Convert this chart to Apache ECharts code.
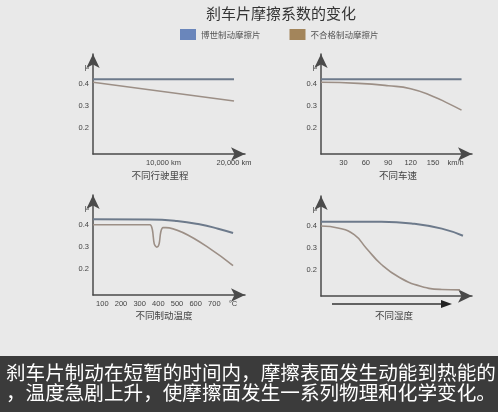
<!DOCTYPE html>
<html><head><meta charset="utf-8">
<script src="https://cdn.jsdelivr.net/npm/echarts@6/dist/echarts.min.js"></script>
<style>html,body{margin:0;padding:0;background:#e9e9e9}#c{width:498px;height:412px}</style>
</head><body><div id="c"></div>
<script>
const seriesNames = ['博世制动摩擦片', '不合格制动摩擦片'];
const legendColors = ['#6a86bb', '#a3855b'];
const lineColors = ['#6d7a8b', '#9c8f86'];

// y axis ticks (shared)
const yTicks = [0.2, 0.3, 0.4, 0.48];
const yTickLabels = ['0.2', '0.3', '0.4', 'μ'];

// Panel 1: mileage (km)
const mileageBoschX = [0, 20000];
const mileageBosch = [0.424, 0.424];
const mileageInferiorX = [0, 20000];
const mileageInferior = [0.41, 0.324];
const mileageTicks = [10000, 20000];
const mileageTickLabels = ['10,000 km', '20,000 km'];

// Panel 2: speed (km/h)
const speedBoschX = [0, 188];
const speedBosch = [0.424, 0.424];
const speedInferiorX = [0, 50, 90, 120, 150, 170, 188];
const speedInferior = [0.41, 0.405, 0.394, 0.38, 0.345, 0.313, 0.282];
const speedTicks = [30, 60, 90, 120, 150, 180];
const speedTickLabels = ['30', '60', '90', '120', '150', 'km/h'];

// Panel 3: braking temperature (°C)
const tempBoschX = [50, 350, 500, 620, 720, 800];
const tempBosch = [0.428, 0.427, 0.42, 0.405, 0.385, 0.365];
const tempInferiorX = [50, 355, 368, 378, 392, 404, 413, 425, 440, 800];
const tempInferior = [0.403, 0.403, 0.38, 0.315, 0.3, 0.315, 0.37, 0.39, 0.39, 0.215];
const tempTicks = [100, 200, 300, 400, 500, 600, 700, 800];
const tempTickLabels = ['100', '200', '300', '400', '500', '600', '700', '°C'];

// Panel 4: humidity (relative scale)
const humBoschX = [0, 40, 60, 80, 94];
const humBosch = [0.422, 0.422, 0.414, 0.39, 0.357];
const humInferiorX = [0, 12, 22, 30, 40, 52, 66, 80, 92];
const humInferior = [0.402, 0.392, 0.362, 0.3, 0.225, 0.165, 0.125, 0.11, 0.108];

const captions = ['不同行驶里程', '不同车速', '不同制动温度', '不同湿度'];
const bannerLines = ['刹车片制动在短暂的时间内，摩擦表面发生动能到热能的', '，温度急剧上升，使摩擦面发生一系列物理和化学变化。'];

const FONT = "'Liberation Sans', 'Noto Sans CJK SC', sans-serif";
const CJK = "'Noto Sans CJK SC', sans-serif";
const zip = (xs, ys) => xs.map((x, i) => [x, ys[i]]);

const grids = [
  {left: 93, top: 54, width: 152, height: 100},
  {left: 321, top: 54, width: 151, height: 100},
  {left: 93, top: 195, width: 152, height: 100},
  {left: 321, top: 196, width: 151, height: 100}
];
const xRanges = [[0, 21560], [0, 202], [50, 864], [0, 100]];
const xTickSets = [[mileageTicks, mileageTickLabels], [speedTicks, speedTickLabels], [tempTicks, tempTickLabels], [[], []]];

const axisLine = {show: true, symbol: ['none', 'arrow'], symbolSize: [10, 14], lineStyle: {color: '#4a4a4a', width: 1.5}};

const xAxes = grids.map((g, i) => ({
  type: 'value', gridIndex: i, min: xRanges[i][0], max: xRanges[i][1],
  axisLine: axisLine, axisTick: {show: false}, splitLine: {show: false},
  axisLabel: {
    show: xTickSets[i][0].length > 0,
    customValues: xTickSets[i][0],
    formatter: v => { const k = xTickSets[i][0].indexOf(v); return k >= 0 ? xTickSets[i][1][k] : ''; },
    fontSize: 7.5, color: '#444', margin: 5, fontFamily: FONT
  }
}));
const yAxes = grids.map((g, i) => ({
  type: 'value', gridIndex: i, min: 0.08, max: 0.54,
  axisLine: axisLine, axisTick: {show: false}, splitLine: {show: false},
  axisLabel: {
    customValues: yTicks,
    formatter: v => { const k = yTicks.indexOf(v); return k >= 0 ? yTickLabels[k] : ''; },
    fontSize: 7.5, color: '#444', margin: 4, fontFamily: FONT
  }
}));

const panelData = [
  [zip(mileageBoschX, mileageBosch), zip(mileageInferiorX, mileageInferior)],
  [zip(speedBoschX, speedBosch), zip(speedInferiorX, speedInferior)],
  [zip(tempBoschX, tempBosch), zip(tempInferiorX, tempInferior)],
  [zip(humBoschX, humBosch), zip(humInferiorX, humInferior)]
];
const series = [];
panelData.forEach((pd, i) => {
  pd.forEach((d, j) => {
    series.push({
      type: 'line', name: seriesNames[j], xAxisIndex: i, yAxisIndex: i, data: d,
      showSymbol: false, smooth: (i === 2 && j === 1) ? 0.3 : 0.5,
      lineStyle: {color: lineColors[j], width: j === 0 ? 2 : 1.6},
      itemStyle: {color: lineColors[j]}
    });
  });
});

const capPos = [[160, 171], [398, 171], [164, 311], [394, 311]];
const titles = [{
  text: '刹车片摩擦系数的变化', left: 281, top: 6, textAlign: 'center', padding: 0,
  textStyle: {fontSize: 15, fontWeight: 'normal', color: '#333', fontFamily: CJK}
}];
captions.forEach((c, i) => titles.push({
  text: c, left: capPos[i][0], top: capPos[i][1], textAlign: 'center', padding: 0,
  textStyle: {fontSize: 9.5, fontWeight: 'normal', color: '#444', fontFamily: CJK}
}));
bannerLines.forEach((t, i) => titles.push({
  text: t, left: 6, top: 362 + i * 20, padding: 0,
  textStyle: {fontSize: 19.6, fontWeight: 'normal', color: '#ffffff', fontFamily: CJK, lineHeight: 21}
}));

const chart = echarts.init(document.getElementById('c'));
chart.setOption({
  backgroundColor: '#e9e9e9',
  animation: false,
  title: titles,
  legend: {
    left: 180, top: 29, padding: 0, itemGap: 29, itemWidth: 16, itemHeight: 11, icon: 'rect',
    selectedMode: false,
    textStyle: {fontSize: 8.5, color: '#555', fontFamily: CJK},
    data: seriesNames.map((n, j) => ({name: n, itemStyle: {color: legendColors[j]}}))
  },
  grid: grids,
  xAxis: xAxes,
  yAxis: yAxes,
  series: series,
  graphic: [
    {type: 'rect', shape: {x: 0, y: 356, width: 498, height: 56}, style: {fill: '#3b3b3b'}, z: -1},
    {type: 'line', shape: {x1: 332, y1: 304, x2: 444, y2: 304}, style: {stroke: '#333', lineWidth: 1.5}},
    {type: 'polygon', shape: {points: [[441, 300], [452, 304], [441, 308]]}, style: {fill: '#222'}}
  ]
});
</script></body></html>
